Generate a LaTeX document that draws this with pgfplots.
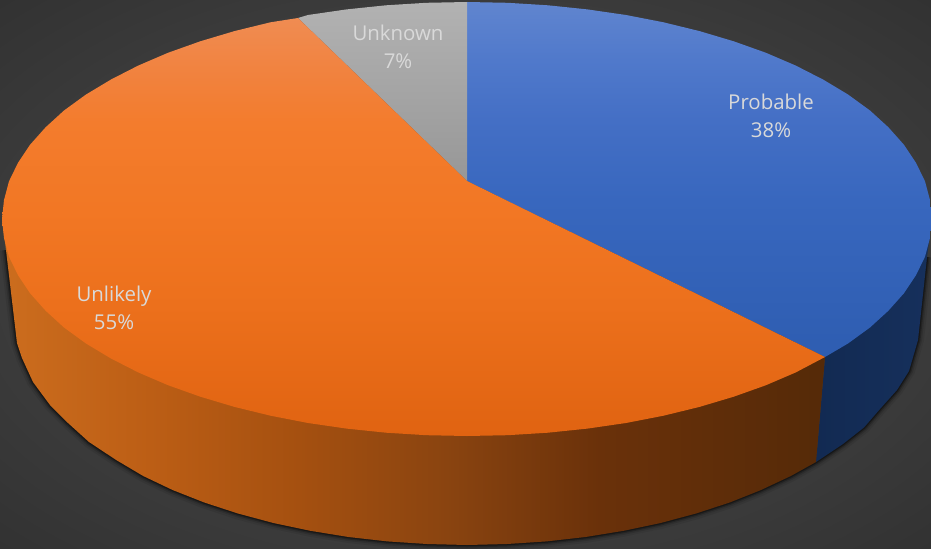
\documentclass[border=0pt]{standalone}
\usepackage{fontspec}
\setmainfont{Open Sans}
\usepackage{pgfplots}
\usepackage{pgfplotstable}
\pgfplotsset{compat=1.18}

\definecolor{labelgray}{HTML}{D9D9D9}
\definecolor{bluewallL}{HTML}{122A52}
\definecolor{bluewallR}{HTML}{16305C}
\definecolor{grayT}{HTML}{B2B2B2}
\definecolor{grayB}{HTML}{979797}
\definecolor{bgC}{HTML}{505050}
\definecolor{bgE}{HTML}{323232}
\definecolor{orA}{HTML}{E06311}
\definecolor{orB}{HTML}{EC701C}
\definecolor{orC}{HTML}{F27724}
\definecolor{orD}{HTML}{F37C2D}
\definecolor{orE}{HTML}{F1823E}
\definecolor{orF}{HTML}{F08C52}
\definecolor{blA}{HTML}{2E5DB1}
\definecolor{blB}{HTML}{3867BE}
\definecolor{blC}{HTML}{446FC5}
\definecolor{blD}{HTML}{5079CB}
\definecolor{blE}{HTML}{6085CF}
\definecolor{owA}{HTML}{CC6D1E}
\definecolor{owB}{HTML}{BC5E15}
\definecolor{owC}{HTML}{A55010}
\definecolor{owD}{HTML}{8A4410}
\definecolor{owE}{HTML}{6A310A}
\definecolor{owF}{HTML}{552A08}

% the path's bounding box runs over 25bp..75bp of each shading
\pgfdeclareradialshading{bgshade}{\pgfpoint{0bp}{0bp}}{color(0bp)=(bgC); color(35.4bp)=(bgE); color(50bp)=(bgE)}
\pgfdeclareverticalshading{orangeface}{100bp}{color(0bp)=(orA); color(25bp)=(orA); color(40.6bp)=(orB); color(52bp)=(orC); color(62.6bp)=(orD); color(68.3bp)=(orE); color(75bp)=(orF); color(100bp)=(orF)}
\pgfdeclareverticalshading{blueface}{100bp}{color(0bp)=(blA); color(25bp)=(blA); color(47bp)=(blB); color(58.4bp)=(blC); color(66.8bp)=(blD); color(75bp)=(blE); color(100bp)=(blE)}
\pgfdeclarehorizontalshading{orangewallshade}{100bp}{color(0bp)=(owA); color(25bp)=(owA); color(34bp)=(owB); color(43bp)=(owC); color(52bp)=(owD); color(61.3bp)=(owE); color(75bp)=(owF); color(100bp)=(owF)}

% outlines in picture pixels (y downwards)
\pgfplotstableread{
x y
467 181
467 2
507.5 2.8
548 5.3
587.4 9.4
626 15
663.5 22.3
699.5 31.1
733.7 41.3
766 52.8
795.8 65.6
823 79.5
848 94.5
870 110.5
888.4 127.3
904 144.8
916 162.8
925 181.3
930 200.1
932 219
930 237.9
925 256.7
916 275.2
904 293.2
888.4 310.7
870 327.5
848 343.5
825 357
467 181
}\bluetop

\pgfplotstableread{
x y
467 181
825 357
795.8 372.4
766 385.2
733.7 396.7
699.5 406.9
663.5 415.7
626 423
587.4 428.6
548 432.7
507.5 435.2
467 436
426.5 435.2
386 432.7
346.6 428.6
308 423
270.5 415.7
234.5 406.9
200.3 396.7
168 385.2
138.2 372.4
111 358.5
86 343.5
64 327.5
45.6 310.7
30 293.2
18 275.2
9 256.7
4 237.9
2 219
4 200.1
9 181.3
18 162.8
30 144.8
45.6 127.3
64 110.5
86 94.5
111 79.5
138.2 65.6
168 52.8
200.3 41.3
234.5 31.1
270.5 22.3
298 18
467 181
}\orangetop

\pgfplotstableread{
x y
467 181
298 18
308 15
346.6 9.4
386 5.3
426.5 2.8
467 2
467 181
}\graytop

\pgfplotstableread{
x y
825 357
816 462
843 444
864 427.5
880 409
897 390
909 371
918 340
927 257
932 219
825 219
825 357
}\bluewall

\pgfplotstableread{
x y
825 357
816 462
790.8 476
761 490
729.7 502.5
696 513.5
660.6 523
623.6 530.8
585.5 537
546.5 541.4
507 544
467 545
427 544
387.5 541.4
348.5 537
310.4 530.8
273.4 523
238 513.5
204.3 502.5
172.6 490
143.2 476
116.2 460
89 442
68 423
50 405
33 382
22 358
17 343
6 250
2 219
825 219
825 357
}\orangewall

\pgfplotstableread{
x y
927 257
918 340
909 371
897 390
880 409
864 427.5
843 444
816 462
790.8 476
761 490
729.7 502.5
696 513.5
660.6 523
623.6 530.8
585.5 537
546.5 541.4
507 544
467 545
427 544
387.5 541.4
348.5 537
310.4 530.8
273.4 523
238 513.5
204.3 502.5
172.6 490
143.2 476
116.2 460
89 442
68 423
50 405
33 382
22 358
17 343
6 250
}\rim

\begin{document}
\begin{tikzpicture}
\begin{axis}[
    width=931bp, height=549bp,
    scale only axis,
    xmin=0, xmax=931,
    ymin=0, ymax=549,
    y dir=reverse,
    hide axis,
]
\fill[shade, shading=bgshade] (axis cs:0,0) rectangle (axis cs:931,549);

% soft shadow round the lower rim
\addplot[black, opacity=0.07, line width=12bp] table {\rim};
\addplot[black, opacity=0.12, line width=8bp] table {\rim};
\addplot[black, opacity=0.22, line width=5bp] table {\rim};
\addplot[black, opacity=0.35, line width=2.5bp] table {\rim};

% side walls
\addplot[draw=none, left color=bluewallL, right color=bluewallR] table {\bluewall};
\addplot[draw=none, shade, shading=orangewallshade] table {\orangewall};

% top face
\addplot[draw=none, shade, shading=blueface] table {\bluetop};
\addplot[draw=none, top color=grayT, bottom color=grayB] table {\graytop};
\addplot[draw=none, shade, shading=orangeface] table {\orangetop};

\node[text=labelgray, align=center, font=\fontsize{20.5}{28}\selectfont] at (axis cs:398,47) {Unknown\\7\%};
\node[text=labelgray, align=center, font=\fontsize{20.5}{28}\selectfont] at (axis cs:771,116) {Probable\\38\%};
\node[text=labelgray, align=center, font=\fontsize{20.5}{28}\selectfont] at (axis cs:114,308) {Unlikely\\55\%};
\end{axis}
\end{tikzpicture}
\end{document}
